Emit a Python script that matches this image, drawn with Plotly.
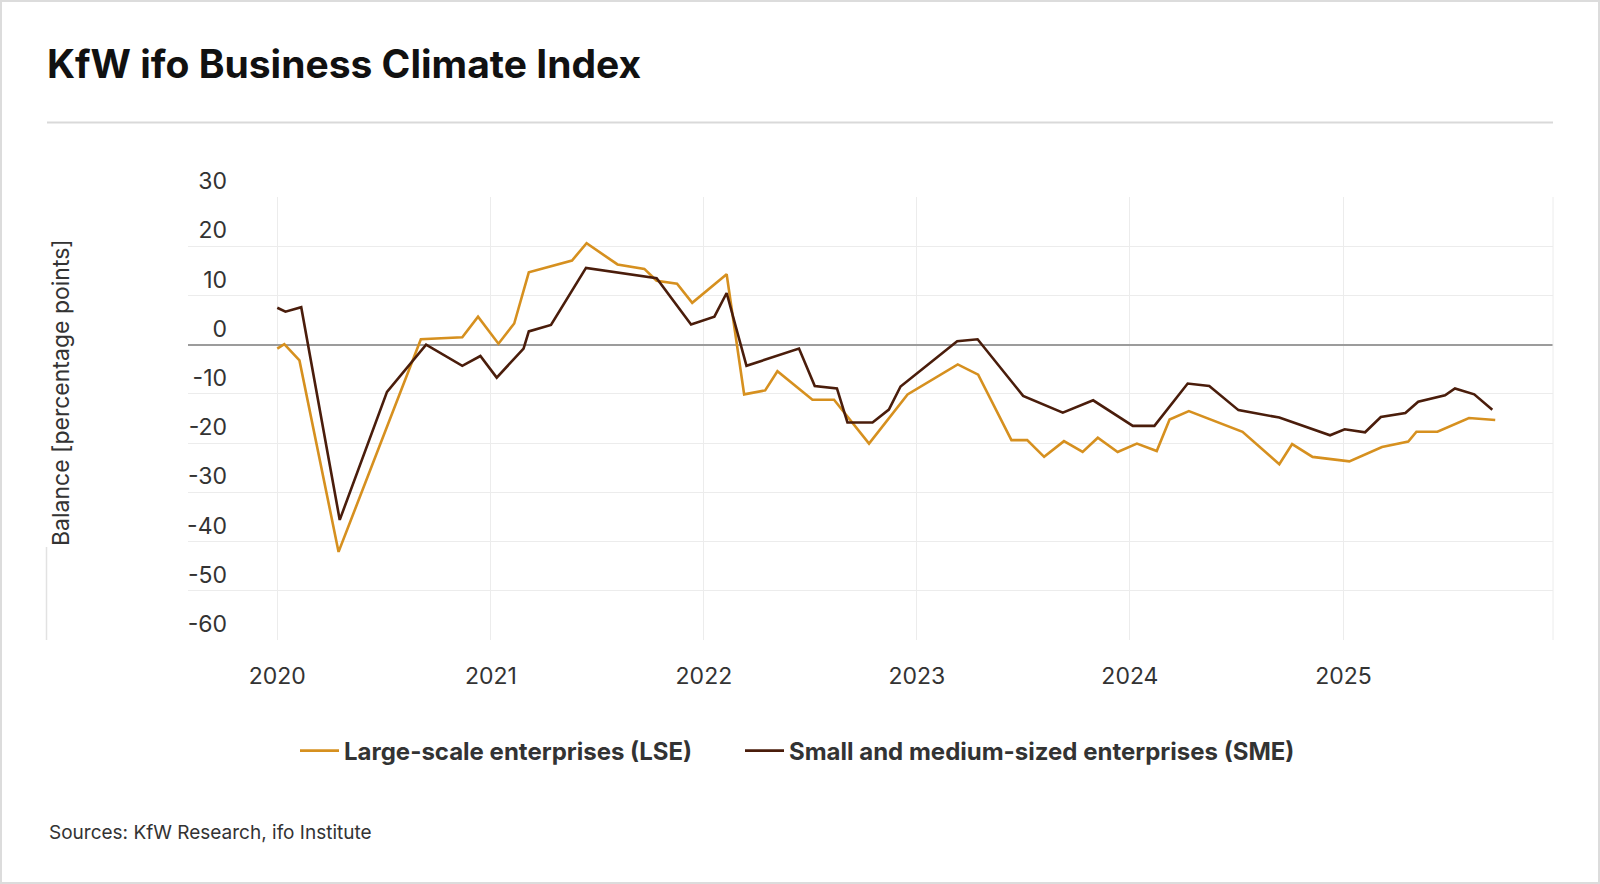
import plotly.graph_objects as go

# ---------------- data ----------------
lse_dates = ["2020-01-01", "2020-01-13", "2020-02-08", "2020-04-15", "2020-09-03", "2020-11-13",
             "2020-12-10", "2021-01-14", "2021-02-10", "2021-03-07", "2021-05-20", "2021-06-14",
             "2021-08-06", "2021-09-21", "2021-10-12", "2021-11-16", "2021-12-12", "2022-02-09",
             "2022-03-11", "2022-04-16", "2022-05-07", "2022-07-06", "2022-08-12", "2022-10-11",
             "2022-12-16", "2023-03-12", "2023-04-16", "2023-06-12", "2023-07-09", "2023-08-07",
             "2023-09-10", "2023-10-12", "2023-11-07", "2023-12-11", "2024-01-13", "2024-02-16",
             "2024-03-09", "2024-04-11", "2024-07-12", "2024-09-13", "2024-10-05", "2024-11-09",
             "2025-01-11", "2025-03-08", "2025-04-22", "2025-05-06", "2025-06-11", "2025-08-04",
             "2025-09-18"]
lse_values = [-0.8, 0.1, -3.2, -42.1, 1.1, 1.5,
              5.7, 0.2, 4.3, 14.7, 17.1, 20.6,
              16.3, 15.4, 13.0, 12.4, 8.5, 14.3,
              -10.1, -9.3, -5.4, -11.2, -11.2, -20.1,
              -10.1, -4.0, -6.1, -19.4, -19.4, -22.8,
              -19.6, -21.8, -18.9, -21.8, -20.1, -21.6,
              -15.2, -13.5, -17.7, -24.3, -20.2, -22.8,
              -23.7, -20.8, -19.7, -17.7, -17.7, -14.9,
              -15.3]

sme_dates = ["2020-01-01", "2020-01-15", "2020-02-11", "2020-04-17", "2020-07-07", "2020-09-12",
             "2020-11-13", "2020-12-14", "2021-01-11", "2021-02-26", "2021-03-07", "2021-04-14",
             "2021-06-13", "2021-10-12", "2021-12-10", "2022-01-19", "2022-02-09", "2022-03-15",
             "2022-06-13", "2022-07-10", "2022-08-17", "2022-09-04", "2022-10-17", "2022-11-14",
             "2022-12-04", "2023-03-11", "2023-04-15", "2023-07-02", "2023-09-08", "2023-10-30",
             "2024-01-06", "2024-02-12", "2024-04-09", "2024-05-16", "2024-07-05", "2024-09-13",
             "2024-12-09", "2025-01-03", "2025-02-07", "2025-03-06", "2025-04-17", "2025-05-09",
             "2025-06-24", "2025-07-11", "2025-08-13", "2025-09-13"]
sme_values = [7.5, 6.7, 7.6, -35.6, -9.6, 0.0,
              -4.3, -2.3, -6.7, -0.8, 2.7, 4.0,
              15.6, 13.5, 4.1, 5.7, 10.5, -4.3,
              -0.8, -8.4, -8.9, -15.8, -15.8, -13.2,
              -8.5, 0.7, 1.1, -10.4, -13.8, -11.3,
              -16.5, -16.5, -7.9, -8.4, -13.3, -14.8,
              -18.4, -17.2, -17.8, -14.7, -13.9, -11.6,
              -10.3, -8.9, -10.1, -13.2]

year_ticks = ["2020-01-01", "2021-01-01", "2022-01-01", "2023-01-01", "2024-01-01", "2025-01-01"]
year_labels = ["2020", "2021", "2022", "2023", "2024", "2025"]
y_ticks = [-60, -50, -40, -30, -20, -10, 0, 10, 20, 30]
y_labels = ["-60", "-50", "-40", "-30", "-20", "-10", "0", "10", "20", "30"]

series_names = ["Large-scale enterprises (LSE)", "Small and medium-sized enterprises (SME)"]
series_colors = ["#D6901F", "#4A1D0B"]

title_text = "KfW ifo Business Climate Index"
y_title = "Balance [percentage points]"
source_text = "Sources: KfW Research, ifo Institute"

# ---------------- layout geometry ----------------
W, H = 1600, 884
L, R, T, B = 188, 47, 197, 244
PW, PH = W - L - R, H - T - B
FONT = "Inter"
TXT = "#333333"


def px(xp):
    return (xp - L) / PW


def py(yp):
    return (H - B - yp) / PH


fig = go.Figure()
fig.add_trace(go.Scatter(x=lse_dates, y=lse_values, mode="lines", name=series_names[0],
                         line=dict(color=series_colors[0], width=2.6), legend="legend"))
fig.add_trace(go.Scatter(x=sme_dates, y=sme_values, mode="lines", name=series_names[1],
                         line=dict(color=series_colors[1], width=2.6), legend="legend2"))

legend_common = dict(orientation="h", yanchor="middle", xanchor="left",
                     font=dict(family=FONT, size=24, color=TXT, weight="bold"),
                     itemwidth=39, bgcolor="rgba(0,0,0,0)", borderwidth=0)

fig.update_layout(
    width=W, height=H,
    margin=dict(l=L, r=R, t=T, b=B, pad=0),
    paper_bgcolor="white", plot_bgcolor="white",
    font=dict(family=FONT, color=TXT, size=23),
    title=dict(text=title_text, x=47 / W, xanchor="left", y=1 - 64 / H, yanchor="middle",
               font=dict(family=FONT, size=39, color="#111111", weight="bold")),
    showlegend=True,
    legend=dict(x=px(295), y=py(751), **legend_common),
    legend2=dict(x=px(740), y=py(751), **legend_common),
    xaxis=dict(type="date", range=["2019-08-01", "2025-12-26"],
               tickmode="array", tickvals=year_ticks, ticktext=year_labels,
               showgrid=True, gridcolor="#ececec", gridwidth=1,
               zeroline=False, showline=False, ticks="",
               tickfont=dict(family=FONT, size=23, color=TXT),
               ticklabelstandoff=20),
    yaxis=dict(range=[-60, 30], tickmode="array", tickvals=y_ticks, ticktext=y_labels,
               showgrid=True, gridcolor="#ececec", gridwidth=1,
               zeroline=True, zerolinecolor="#9c9c9c", zerolinewidth=1.5,
               showline=False, ticks="",
               tickfont=dict(family=FONT, size=23, color=TXT),
               ticklabelstandoff=-40, ticklabelshift=-16),
    hovermode=False,
)

fig.add_annotation(text=y_title, textangle=-90, xref="paper", yref="paper",
                   x=px(61), y=py(393), xanchor="center", yanchor="middle", showarrow=False,
                   font=dict(family=FONT, size=23, color=TXT))
fig.add_annotation(text=source_text, xref="paper", yref="paper",
                   x=px(47), y=py(832), xanchor="left", yanchor="middle", showarrow=False,
                   font=dict(family=FONT, size=19, color=TXT))

shapes = [
    dict(type="line", xref="paper", yref="paper", x0=px(47), x1=px(1553), y0=py(122.5), y1=py(122.5),
         line=dict(color="#d9d9d9", width=2)),
    dict(type="line", xref="paper", yref="paper", x0=1, x1=1, y0=0, y1=1,
         line=dict(color="#ececec", width=1)),
    dict(type="line", xref="paper", yref="paper", x0=px(46.5), x1=px(46.5), y0=0, y1=py(547),
         line=dict(color="#e2e2e2", width=1.5)),
    dict(type="rect", xref="paper", yref="paper", x0=px(1), x1=px(W - 1), y0=py(H - 1), y1=py(1),
         line=dict(color="#dcdcdc", width=2), layer="below"),
]
fig.update_layout(shapes=shapes)

fig.write_html("out.html", config={"displayModeBar": False},
               post_script="document.body.style.margin='0';document.body.style.overflow='hidden';")
